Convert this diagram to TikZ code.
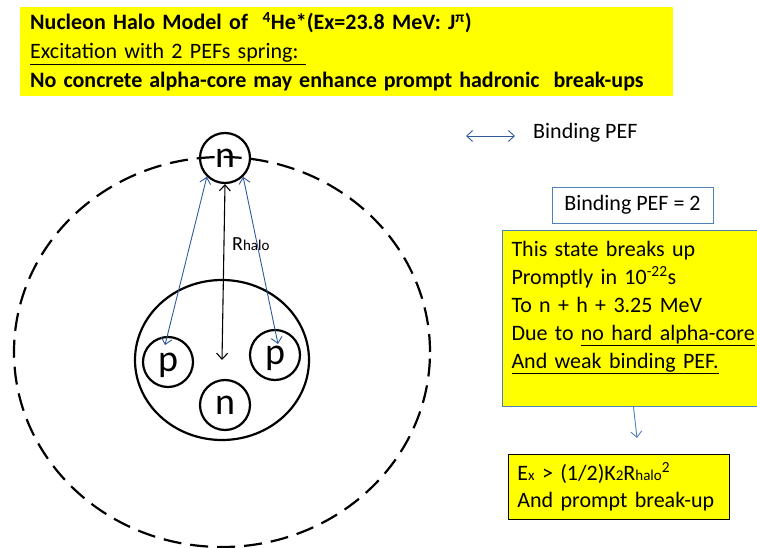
\documentclass[tikz,border=0pt]{standalone}
\usepackage{fontspec}
\setmainfont{Carlito}
\usetikzlibrary{arrows.meta,shapes.geometric}
\definecolor{pefblue}{HTML}{2F5A9A}
\definecolor{boxblue}{HTML}{4F81BD}
\definecolor{slideyellow}{HTML}{FFFF00}
\newcommand\lowsmall[1]{{\fontsize{15}{15}\selectfont #1}}
\tikzset{
  nucleon/.style={circle, draw, line width=2.2pt, minimum size=50pt, inner sep=0pt, text depth=0pt, font=\fontsize{38}{38}\selectfont},
  barbs/.style={{Straight Barb[length=6pt,width=11pt]}-{Straight Barb[length=6pt,width=11pt]}},
  pef/.style={draw=pefblue, line width=0.9pt, barbs},
  radius/.style={draw=black, line width=1.1pt, barbs},
  bodytext/.style={font=\fontsize{22}{28}\selectfont},
}
\begin{document}
\begin{tikzpicture}[x=1pt,y=-1pt]
\useasboundingbox (0,0) rectangle (757,548);
% title
\node[anchor=north west, fill=slideyellow, minimum width=653pt, minimum height=89pt,
  inner xsep=10pt, text width=633pt, align=left,
  font=\bfseries\fontsize{22}{29}\selectfont] (title) at (20,7)
  {Nucleon Halo Model of~ \textsuperscript{4}He*(Ex=23.8 MeV: J\textsuperscript{π})\\
   {\mdseries\underline{Excitation with 2 PEFs spring:~}}\\
   {\spaceskip=7pt plus 0pt No concrete alpha-core may enhance prompt hadronic\hspace{7pt} break-ups}};
% nucleus picture
\node[nucleon] (nt) at (225,158) {n};
\node[ellipse, draw, line width=2.2pt, minimum width=174pt, minimum height=160pt, inner sep=0pt] (core) at (222,360) {};
\node[nucleon] (pl) at (168,362) {p};
\node[nucleon] (pr) at (275,355) {p};
\node[nucleon] (nb) at (225,405) {n};
\node[ellipse, draw, line width=2.2pt, dash pattern=on 18pt off 9pt, minimum width=416pt, minimum height=390pt, inner sep=0pt] (halo) at (222,352) {};
\draw[radius] (nt.south) -- (core.center);
\node[anchor=base west, inner sep=0pt, font=\fontsize{20}{20}\selectfont] (rl) at (232,250) {R\lowsmall{halo}};
\draw[pef] (nt.226) -- ([shift={(-3,-17)}]pl.center);
\draw[pef] (nt.314) -- ([shift={(3,-11)}]pr.center);
% legend
\coordinate (la) at (466,136);
\coordinate (lb) at (515,136);
\draw[pef] (la) -- (lb);
\node[anchor=west, inner sep=0pt, font=\fontsize{22}{26}\selectfont] (leg) at (533,133) {Binding PEF};
% boxes
\node[draw=boxblue, line width=0.8pt, minimum width=161pt, minimum height=36pt, inner sep=0pt, bodytext] (pefn) at (632.5,205) {Binding PEF = 2};
\node[anchor=north west, fill=slideyellow, draw=boxblue, line width=1pt, minimum width=270pt, minimum height=176pt,
  inner xsep=9pt, text width=252pt, align=left, bodytext] (state) at (502,230)
  {This state breaks up\\
   Promptly in 10\textsuperscript{-22}s\\
   To n + h + 3.25 MeV\\
   Due to \underline{no hard alpha-core}\\
   \underline{And weak binding PEF.}\\
   \mbox{}};
\coordinate (tip) at (637,438);
\draw[draw=boxblue, line width=0.9pt, -{Straight Barb[length=6pt,width=11pt]}] ([xshift=-4pt]state.south) -- (tip);
\node[anchor=north west, fill=slideyellow, draw=black, line width=0.9pt, minimum width=221pt, minimum height=65pt,
  inner xsep=9pt, text width=203pt, align=left, font=\fontsize{22}{27}\selectfont] (res) at (508,454)
  {E\lowsmall{x} > (1/2)K\lowsmall{2}R\lowsmall{halo}\textsuperscript{2}\\
   And prompt break-up};
\end{tikzpicture}
\end{document}
